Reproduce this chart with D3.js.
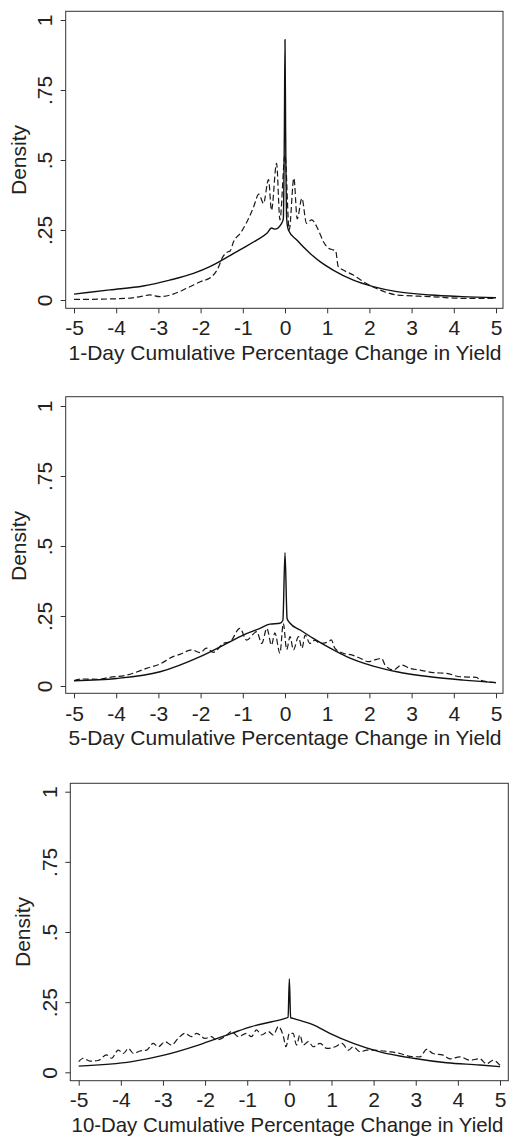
<!DOCTYPE html>
<html>
<head>
<meta charset="utf-8">
<script src="https://cdn.jsdelivr.net/npm/d3@7"></script>
<style>
  html, body { margin: 0; padding: 0; background: #fff; }
  svg { display: block; }
  text { font-family: "Liberation Sans", Arial, Helvetica, sans-serif; fill: #222; }
</style>
</head>
<body>
<svg id="chart" width="510" height="1136"></svg>
<script>
// ---------------- DATA ----------------
const xTicks = [-5, -4, -3, -2, -1, 0, 1, 2, 3, 4, 5];
const yTicks = [0, 0.25, 0.5, 0.75, 1];
const yTickLabels = ["0", ".25", ".5", ".75", "1"];
const yAxisTitle = "Density";
const panelTitles = [
  "1-Day Cumulative Percentage Change in Yield",
  "5-Day Cumulative Percentage Change in Yield",
  "10-Day Cumulative Percentage Change in Yield"
];

// Panel 1 (1-day): solid and dashed densities, [x, density]
const day1Solid = [
  [-5, 0.021], [-4.15, 0.036], [-3.36, 0.05], [-2.73, 0.071], [-2.17, 0.095],
  [-1.78, 0.119], [-1.38, 0.152], [-1.07, 0.179], [-0.67, 0.214], [-0.43, 0.238],
  [-0.32, 0.257], [-0.24, 0.253], [-0.08, 0.274], [-0.04, 0.29], [-0.015, 0.6],
  [0, 0.93], [0.015, 0.6], [0.04, 0.29], [0.08, 0.25], [0.28, 0.214],
  [0.59, 0.167], [0.83, 0.137], [1.14, 0.107], [1.62, 0.071], [2.09, 0.048],
  [2.65, 0.03], [3.44, 0.018], [4.2, 0.012], [5, 0.008]
];
const day1Dashed = [
  [-5, 0.002], [-4.4, 0.003], [-3.75, 0.006], [-3.43, 0.012], [-3.2, 0.018],
  [-2.96, 0.012], [-2.65, 0.021], [-2.33, 0.042], [-2.01, 0.065], [-1.74, 0.083],
  [-1.6, 0.11], [-1.47, 0.155], [-1.38, 0.17], [-1.3, 0.175], [-1.22, 0.208],
  [-1.05, 0.24], [-0.92, 0.274], [-0.75, 0.33], [-0.62, 0.378], [-0.51, 0.345],
  [-0.39, 0.43], [-0.32, 0.32], [-0.2, 0.488], [-0.12, 0.286], [0, 0.518],
  [0.1, 0.25], [0.21, 0.435], [0.29, 0.29], [0.4, 0.363], [0.51, 0.274],
  [0.63, 0.286], [0.79, 0.25], [0.91, 0.208], [1.03, 0.185], [1.14, 0.179],
  [1.2, 0.176], [1.26, 0.12], [1.38, 0.107], [1.62, 0.089], [1.86, 0.065],
  [2.25, 0.036], [2.65, 0.018], [3.44, 0.012], [4.23, 0.006], [5, 0.006]
];

// Panel 2 (5-day)
const day5Solid = [
  [-5, 0.019], [-3.99, 0.027], [-2.96, 0.051], [-2.01, 0.105], [-1.38, 0.152],
  [-0.99, 0.182], [-0.59, 0.206], [-0.36, 0.221], [-0.12, 0.224], [-0.05, 0.235],
  [0, 0.476], [0.05, 0.24], [0.12, 0.224], [0.36, 0.2], [0.67, 0.17],
  [1.07, 0.135], [1.46, 0.105], [2.09, 0.071], [2.65, 0.051], [3.44, 0.033],
  [4.23, 0.021], [5, 0.012]
];
const day5Dashed = [
  [-5, 0.019], [-4.8, 0.025], [-4.4, 0.024], [-4.2, 0.03], [-3.75, 0.039],
  [-3.28, 0.063], [-2.96, 0.079], [-2.65, 0.105], [-2.49, 0.113], [-2.21, 0.129],
  [-2.01, 0.119], [-1.86, 0.135], [-1.7, 0.12], [-1.46, 0.152], [-1.3, 0.158],
  [-1.07, 0.206], [-0.91, 0.164], [-0.67, 0.194], [-0.55, 0.152], [-0.43, 0.206],
  [-0.32, 0.146], [-0.24, 0.19], [-0.12, 0.117], [-0.04, 0.224], [0.04, 0.13],
  [0.12, 0.176], [0.2, 0.129], [0.32, 0.176], [0.4, 0.135], [0.48, 0.182],
  [0.59, 0.152], [0.71, 0.164], [0.83, 0.152], [1.03, 0.158], [1.1, 0.165],
  [1.18, 0.135], [1.38, 0.117], [1.58, 0.111], [1.78, 0.099], [1.97, 0.087],
  [2.17, 0.095], [2.29, 0.099], [2.37, 0.075], [2.57, 0.057], [2.76, 0.075],
  [2.96, 0.063], [3.2, 0.057], [3.51, 0.048], [3.83, 0.045], [4.15, 0.033],
  [4.54, 0.031], [4.62, 0.021], [5, 0.012]
];

// Panel 3 (10-day)
const day10Solid = [
  [-5, 0.022], [-3.74, 0.038], [-2.95, 0.062], [-2.16, 0.097], [-1.37, 0.139],
  [-0.9, 0.163], [-0.42, 0.18], [-0.1, 0.192], [-0.03, 0.196], [0, 0.333],
  [0.03, 0.195], [0.09, 0.192], [0.57, 0.169], [0.96, 0.139], [1.52, 0.103],
  [2.15, 0.073], [2.94, 0.05], [3.73, 0.034], [4.52, 0.026], [5, 0.02]
];
const day10Dashed = [
  [-5, 0.038], [-4.89, 0.05], [-4.73, 0.04], [-4.54, 0.042], [-4.34, 0.062],
  [-4.22, 0.05], [-4.06, 0.079], [-3.94, 0.067], [-3.82, 0.085], [-3.7, 0.067],
  [-3.55, 0.076], [-3.39, 0.079], [-3.23, 0.103], [-3.11, 0.091], [-2.95, 0.109],
  [-2.8, 0.097], [-2.64, 0.121], [-2.48, 0.139], [-2.32, 0.127], [-2.2, 0.139],
  [-2.0, 0.121], [-1.85, 0.127], [-1.73, 0.115], [-1.53, 0.127], [-1.37, 0.145],
  [-1.21, 0.127], [-1.02, 0.139], [-0.9, 0.127], [-0.78, 0.151], [-0.66, 0.133],
  [-0.5, 0.145], [-0.38, 0.133], [-0.26, 0.163], [-0.14, 0.127], [-0.08, 0.091],
  [0.0, 0.139], [0.09, 0.139], [0.17, 0.097], [0.25, 0.133], [0.33, 0.097],
  [0.45, 0.109], [0.57, 0.091], [0.73, 0.103], [0.89, 0.085], [1.09, 0.091],
  [1.25, 0.103], [1.4, 0.079], [1.52, 0.091], [1.68, 0.073], [1.84, 0.079],
  [2.0, 0.079], [2.15, 0.077], [2.39, 0.073], [2.63, 0.067], [2.86, 0.057],
  [3.1, 0.055], [3.26, 0.082], [3.41, 0.067], [3.65, 0.061], [3.81, 0.048],
  [4.05, 0.055], [4.28, 0.043], [4.52, 0.048], [4.68, 0.03], [4.84, 0.043],
  [5, 0.025]
];

// ---------------- LAYOUT ----------------
const panels = [
  { title: panelTitles[0], solid: day1Solid, dashed: day1Dashed,
    box: { l: 65.7, t: 11.3, r: 503, b: 308.3 }, xr: [74, 496], yr: [300, 20],
    yLabX: 52.5, densX: 25.7, xLabY: 335, titleY: 360, titleFS: 21, titleX: 285 },
  { title: panelTitles[1], solid: day5Solid, dashed: day5Dashed,
    box: { l: 65.7, t: 396.7, r: 503, b: 693.3 }, xr: [74, 496], yr: [686, 406],
    yLabX: 52, densX: 26, xLabY: 720.7, titleY: 745, titleFS: 21, titleX: 285 },
  { title: panelTitles[2], solid: day10Solid, dashed: day10Dashed,
    box: { l: 70.3, t: 783.3, r: 508.3, b: 1080.7 }, xr: [78.7, 500], yr: [1072.3, 791.7],
    yLabX: 57, densX: 30, xLabY: 1107, titleY: 1131.7, titleFS: 20.4, titleX: 287.5 }
];

const svg = d3.select("#chart");
const FS = 21;
const ink = "#2a2a2a";

panels.forEach(p => {
  const g = svg.append("g");
  const x = d3.scaleLinear().domain([-5, 5]).range(p.xr);
  const y = d3.scaleLinear().domain([0, 1]).range(p.yr);

  // plot region outline
  g.append("rect")
    .attr("x", p.box.l).attr("y", p.box.t)
    .attr("width", p.box.r - p.box.l).attr("height", p.box.b - p.box.t)
    .attr("fill", "none").attr("stroke", "#333").attr("stroke-width", 1);

  // x axis
  const xAxis = d3.axisBottom(x).tickValues(xTicks).tickSize(5).tickPadding(3)
    .tickFormat(d => d3.format("d")(d).replace("−", "-"));
  const gx = g.append("g").attr("transform", `translate(0,${p.box.b})`).call(xAxis);
  gx.select(".domain").remove();
  gx.selectAll(".tick line").attr("stroke", "#333");
  gx.selectAll(".tick text")
    .attr("y", null).attr("dy", null)
    .attr("transform", `translate(0,${p.xLabY - p.box.b})`)
    .style("font-size", FS + "px").style("font-family", '"Liberation Sans", Arial, sans-serif')
    .attr("fill", ink);

  // y axis
  const yAxis = d3.axisLeft(y).tickValues(yTicks).tickSize(5)
    .tickFormat((d, i) => yTickLabels[i]);
  const gy = g.append("g").attr("transform", `translate(${p.box.l},0)`).call(yAxis);
  gy.select(".domain").remove();
  gy.selectAll(".tick line").attr("stroke", "#333");
  gy.selectAll(".tick text")
    .attr("x", null).attr("dy", null)
    .attr("text-anchor", "middle")
    .attr("transform", `translate(${p.yLabX - p.box.l},0) rotate(-90)`)
    .style("font-size", FS + "px").style("font-family", '"Liberation Sans", Arial, sans-serif')
    .attr("fill", ink);

  // axis titles
  g.append("text")
    .attr("text-anchor", "middle")
    .attr("transform", `translate(${p.densX},${(p.yr[0] + p.yr[1]) / 2}) rotate(-90)`)
    .style("font-size", FS + "px").attr("fill", ink)
    .text(yAxisTitle);
  g.append("text")
    .attr("text-anchor", "middle")
    .attr("x", p.titleX).attr("y", p.titleY)
    .style("font-size", p.titleFS + "px").attr("fill", ink)
    .text(p.title);

  const line = d3.line().x(d => x(d[0])).y(d => y(d[1])).curve(d3.curveMonotoneX);

  g.append("path").datum(p.dashed)
    .attr("d", line).attr("fill", "none")
    .attr("stroke", "#1a1a1a").attr("stroke-width", 1.2)
    .attr("stroke-dasharray", "6,3");
  g.append("path").datum(p.solid)
    .attr("d", line).attr("fill", "none")
    .attr("stroke", "#111").attr("stroke-width", 1.4);
});
</script>
</body>
</html>
